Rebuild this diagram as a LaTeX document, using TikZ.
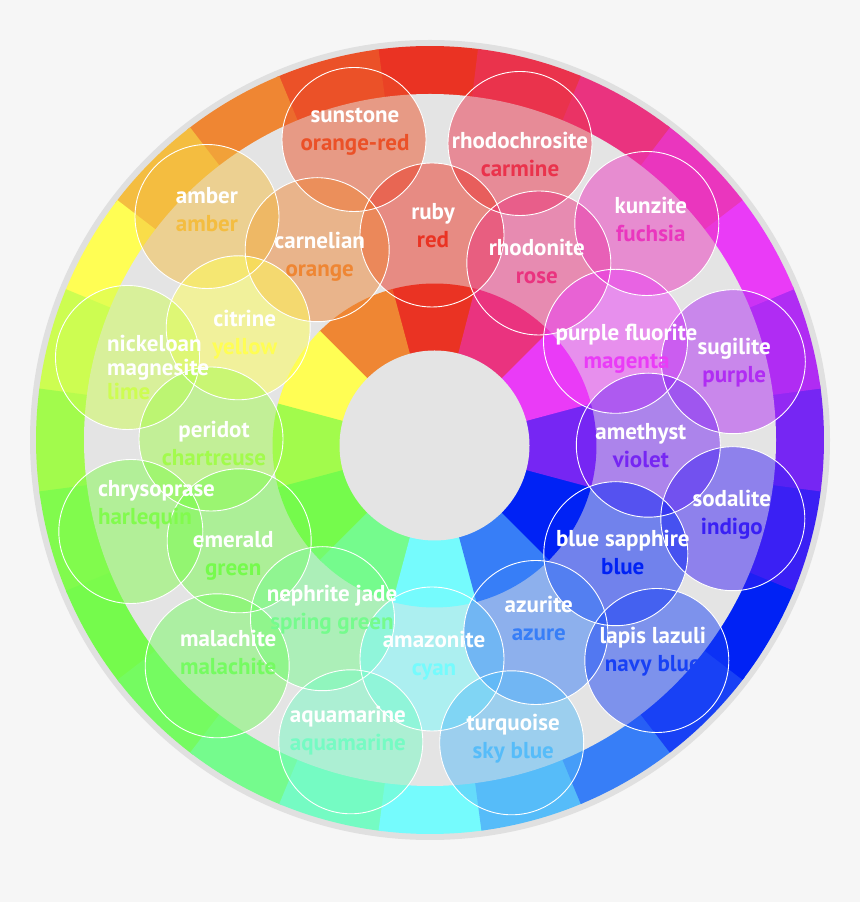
\documentclass[tikz,border=0pt]{standalone}
\usepackage{fontspec}
\setmainfont{PT Sans}
\usetikzlibrary{calc}

% hue wheel colours, one every 15 degrees
\definecolor{hue0}{HTML}{EA3323}
\definecolor{hue15}{HTML}{EB5128}
\definecolor{hue30}{HTML}{EF8633}
\definecolor{hue45}{HTML}{F4BD40}
\definecolor{hue60}{HTML}{FFFE54}
\definecolor{hue75}{HTML}{CDFD51}
\definecolor{hue90}{HTML}{A2FB4C}
\definecolor{hue105}{HTML}{81FB4D}
\definecolor{hue120}{HTML}{75FB4C}
\definecolor{hue135}{HTML}{75FB61}
\definecolor{hue150}{HTML}{75FB8D}
\definecolor{hue165}{HTML}{75FBC3}
\definecolor{hue180}{HTML}{75FBFD}
\definecolor{hue195}{HTML}{56BCF9}
\definecolor{hue210}{HTML}{377EF7}
\definecolor{hue225}{HTML}{1841F5}
\definecolor{hue240}{HTML}{0022F5}
\definecolor{hue255}{HTML}{3A20F4}
\definecolor{hue270}{HTML}{7626F3}
\definecolor{hue285}{HTML}{B02CF3}
\definecolor{hue300}{HTML}{EA3BF7}
\definecolor{hue315}{HTML}{EA36BE}
\definecolor{hue330}{HTML}{EA337F}
\definecolor{hue345}{HTML}{EA334C}
\definecolor{paper}{HTML}{F6F6F6}
\definecolor{band}{HTML}{E4E4E4}
\definecolor{rimgray}{HTML}{E0E0E0}

\begin{document}
\begin{tikzpicture}[x=1pt,y=1pt]

     \tikzstyle{gem}=[circle,minimum size=144pt,inner sep=0pt,fill opacity=0.5]
     \tikzstyle{tag}=[text=white,align=center,inner sep=0pt,font=\fontsize{23}{28}\selectfont\bfseries]
     \tikzstyle{ring}=[white,line width=0.9pt]

     \fill[paper] (0,0) rectangle (860,902);
     \useasboundingbox (0,0) rectangle (860,902);
     \coordinate (hub) at (430,462);
     \coordinate (core) at (434.5,456.5);

     % wheel
     \fill[rimgray] (hub) circle (400);
     \foreach \h [evaluate=\h as \a using 82.5+\h] in {0,15,...,345}
       \fill[hue\h] (hub) -- ($(hub)+(\a:394)$) arc[start angle=\a,end angle=\a+15.5,radius=394] -- cycle;
     \fill[band] (hub) circle (346);
     \foreach \h [evaluate=\h as \a using 75+\h] in {0,30,...,330}
       \fill[hue\h] (core) -- ($(core)+(\a:162)$) arc[start angle=\a,end angle=\a+30.5,radius=162] -- cycle;
     \fill[band] (core) circle (95);

     % stones
     \node at ($(hub)+(-76,300.5)$)[gem,fill=hue15](sunstone){};
     \node at ($(hub)+(90,296.5)$)[gem,fill=hue345](rhodochrosite){};
     \node at ($(hub)+(2,205)$)[gem,fill=hue0](ruby){};
     \node at ($(hub)+(-112.8,190.3)$)[gem,fill=hue30](carnelian){};
     \node at ($(hub)+(-223,223.5)$)[gem,fill=hue45](amber){};
     \node at ($(hub)+(108.8,177)$)[gem,fill=hue330](rhodonite){};
     \node at ($(hub)+(216.8,216.5)$)[gem,fill=hue315](kunzite){};
     \node at ($(hub)+(-191.8,112.2)$)[gem,fill=hue60](citrine){};
     \node at ($(hub)+(-302.5,82.5)$)[gem,fill=hue75](nickeloan){};
     \node at ($(hub)+(185.5,98.7)$)[gem,fill=hue300](fluorite){};
     \node at ($(hub)+(303.3,78.3)$)[gem,fill=hue285](sugilite){};
     \node at ($(hub)+(-219,1)$)[gem,fill=hue90](peridot){};
     \node at ($(hub)+(218.3,-5.2)$)[gem,fill=hue270](amethyst){};
     \node at ($(hub)+(-299.2,-91.5)$)[gem,fill=hue105](chrysoprase){};
     \node at ($(hub)+(-190.8,-100.8)$)[gem,fill=hue120](emerald){};
     \node at ($(hub)+(302.8,-78.7)$)[gem,fill=hue255](sodalite){};
     \node at ($(hub)+(185.8,-113.7)$)[gem,fill=hue240](sapphire){};
     \node at ($(hub)+(-107.5,-178.7)$)[gem,fill=hue150](nephrite){};
     \node at ($(hub)+(-212.8,-225.8)$)[gem,fill=hue135](malachite){};
     \node at ($(hub)+(2,-219)$)[gem,fill=hue180](amazonite){};
     \node at ($(hub)+(105.8,-192.5)$)[gem,fill=hue210](azurite){};
     \node at ($(hub)+(226.8,-220.5)$)[gem,fill=hue225](lapis){};
     \node at ($(hub)+(-79.2,-301.8)$)[gem,fill=hue165](aquamarine){};
     \node at ($(hub)+(81.7,-302.8)$)[gem,fill=hue195](turquoise){};

     \foreach \g in {sunstone,rhodochrosite,ruby,carnelian,amber,rhodonite,kunzite,citrine,
       nickeloan,fluorite,sugilite,peridot,amethyst,chrysoprase,emerald,sodalite,sapphire,
       nephrite,malachite,amazonite,azurite,lapis,aquamarine,turquoise}
       \draw[ring] (\g.center) circle (72);

     % names
     \node at ($(sunstone)+(1,9)$)[tag](sunstonetxt){\strut sunstone\\\strut\textcolor{hue15}{orange-red}};
     \node at ($(rhodochrosite)+(0,-13)$)[tag](rhodochrositetxt){\strut rhodochrosite\\\strut\textcolor{hue345}{carmine}};
     \node at ($(ruby)+(1,6.6)$)[tag](rubytxt){\strut ruby\\\strut\textcolor{hue0}{red}};
     \node at ($(carnelian)+(2.5,-7.5)$)[tag](carneliantxt){\strut carnelian\\\strut\textcolor{hue30}{orange}};
     \node at ($(amber)+(0,5)$)[tag](ambertxt){\strut amber\\\strut\textcolor{hue45}{amber}};
     \node at ($(rhodonite)+(-2,-0.5)$)[tag](rhodonitetxt){\strut rhodonite\\\strut\textcolor{hue330}{rose}};
     \node at ($(kunzite)+(4,1.5)$)[tag](kunzitetxt){\strut kunzite\\\strut\textcolor{hue315}{fuchsia}};
     \node at ($(citrine)+(6.5,-7.5)$)[tag](citrinetxt){\strut citrine\\\strut\textcolor{hue60}{yellow}};
     \node at ($(nickeloan)+(-20.5,-13.7)$)[tag,align=left,anchor=west,font=\fontsize{23}{24}\selectfont\bfseries](nickeloantxt){\strut nickeloan\\\strut magnesite\\\strut\textcolor{hue75}{lime}};
     \node at ($(fluorite)+(11,-7.5)$)[tag](fluoritetxt){\strut purple fluorite\\\strut\textcolor{hue300}{magenta}};
     \node at ($(sugilite)+(1,-1.5)$)[tag](sugilitetxt){\strut sugilite\\\strut\textcolor{hue285}{purple}};
     \node at ($(peridot)+(3,-6.5)$)[tag](peridottxt){\strut peridot\\\strut\textcolor{hue90}{chartreuse}};
     \node at ($(amethyst)+(-7.5,-2.5)$)[tag](amethysttxt){\strut amethyst\\\strut\textcolor{hue270}{violet}};
     \node at ($(chrysoprase)+(-33,26.6)$)[tag,align=left,anchor=west](chrysoprasetxt){\strut chrysoprase\\\strut\textcolor{hue105}{harlequin}};
     \node at ($(emerald)+(-6,-15.5)$)[tag](emeraldtxt){\strut emerald\\\strut\textcolor{hue120}{green}};
     \node at ($(sodalite)+(-1,3.5)$)[tag](sodalitetxt){\strut sodalite\\\strut\textcolor{hue255}{indigo}};
     \node at ($(sapphire)+(7,-1.5)$)[tag](sapphiretxt){\strut blue sapphire\\\strut\textcolor{hue240}{blue}};
     \node at ($(nephrite)+(9.5,8.5)$)[tag](nephritetxt){\strut nephrite jade\\\strut\textcolor{hue150}{spring green}};
     \node at ($(malachite)+(11,10.5)$)[tag](malachitetxt){\strut malachite\\\strut\textcolor{hue135}{malachite}};
     \node at ($(amazonite)+(2,3.5)$)[tag](amazonitetxt){\strut amazonite\\\strut\textcolor{hue180}{cyan}};
     \node at ($(azurite)+(3,11.5)$)[tag](azuritetxt){\strut azurite\\\strut\textcolor{hue210}{azure}};
     \node at ($(lapis)+(-4,8.5)$)[tag](lapistxt){\strut lapis lazuli\\\strut\textcolor{hue225}{navy blue}};
     \node at ($(aquamarine)+(-3,10.5)$)[tag](aquamarinetxt){\strut aquamarine\\\strut\textcolor{hue165}{aquamarine}};
     \node at ($(turquoise)+(1.5,3.5)$)[tag](turquoisetxt){\strut turquoise\\\strut\textcolor{hue195}{sky blue}};

\end{tikzpicture}
\end{document}
